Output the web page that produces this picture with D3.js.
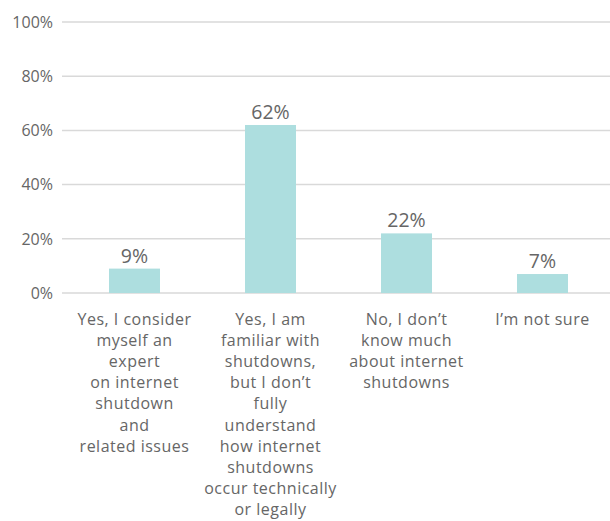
<!DOCTYPE html>
<html>
<head>
<meta charset="utf-8">
<script src="https://cdn.jsdelivr.net/npm/d3@7"></script>
<style>
  html, body { margin: 0; padding: 0; background: #fff; }
  svg text { font-family: "Open Sans", "Lato", sans-serif; fill: #666666; }
</style>
</head>
<body>
<svg id="chart" width="610" height="521"></svg>
<script>
// Survey answers (each entry is one wrapped label, line by line)
const categories = [
  ["Yes, I consider", "myself an", "expert", "on internet", "shutdown", "and", "related issues"],
  ["Yes, I am", "familiar with", "shutdowns,", "but I don\u2019t", "fully", "understand", "how internet", "shutdowns", "occur technically", "or legally"],
  ["No, I don\u2019t", "know much", "about internet", "shutdowns"],
  ["I\u2019m not sure"]
];
const values = [9, 62, 22, 7];
const yTicks = [0, 20, 40, 60, 80, 100];

const svg = d3.select("#chart");
const gridLeft = 62, gridRight = 610;

const x = d3.scaleBand()
  .domain(d3.range(categories.length))
  .range([66.5, 610.5])
  .paddingInner(0.625)
  .paddingOuter(0.3125);

const y = d3.scaleLinear().domain([0, 100]).range([293, 22]);

// Horizontal gridlines with percentage labels
const yAxis = svg.append("g");
yAxis.selectAll("line")
  .data(yTicks)
  .join("line")
  .attr("x1", gridLeft)
  .attr("x2", gridRight)
  .attr("y1", d => y(d))
  .attr("y2", d => y(d))
  .attr("stroke", "#d9d9d9")
  .attr("stroke-width", 1.5);

yAxis.selectAll("text")
  .data(yTicks)
  .join("text")
  .attr("x", 53)
  .attr("y", d => y(d))
  .attr("dy", "0.36em")
  .attr("text-anchor", "end")
  .style("font-size", "16px")
  .text(d => d + "%");

// Bars
svg.append("g")
  .selectAll("rect")
  .data(values)
  .join("rect")
  .attr("x", (d, i) => x(i))
  .attr("width", x.bandwidth())
  .attr("y", d => y(d))
  .attr("height", d => y(0) - y(d))
  .attr("fill", "#addedf");

// Value labels above bars
svg.append("g")
  .selectAll("text")
  .data(values)
  .join("text")
  .attr("x", (d, i) => x(i) + x.bandwidth() / 2)
  .attr("y", d => y(d) - 6)
  .attr("text-anchor", "middle")
  .style("font-size", "19.5px")
  .text(d => d + "%");

// Category labels below the baseline
const catG = svg.append("g");
const labelTop = 325, lineStep = 21.1;
categories.forEach((lines, i) => {
  const cx = x(i) + x.bandwidth() / 2;
  const t = catG.append("text")
    .attr("x", cx)
    .attr("y", labelTop)
    .attr("text-anchor", "middle")
    .style("font-size", "16px")
    .style("letter-spacing", "0.5px");
  lines.forEach((line, j) => {
    t.append("tspan")
      .attr("x", cx)
      .attr("y", labelTop + j * lineStep)
      .text(line);
  });
});
</script>
</body>
</html>
